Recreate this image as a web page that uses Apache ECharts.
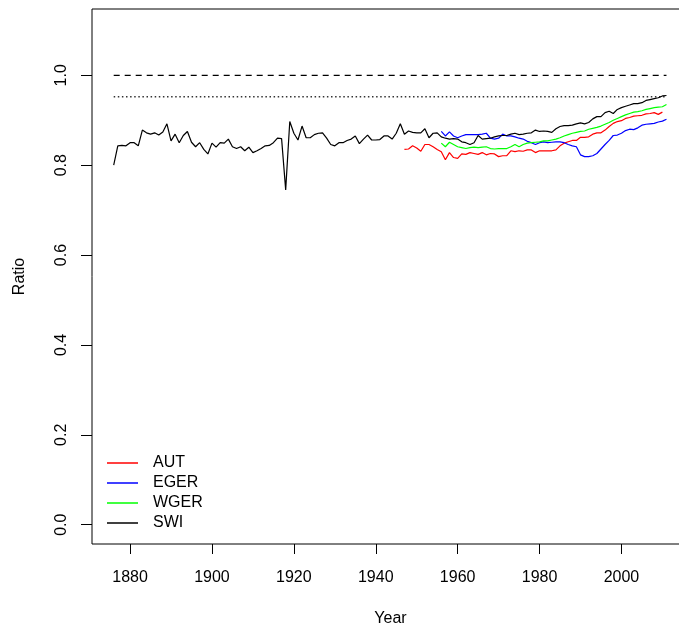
<!DOCTYPE html>
<html>
<head>
<meta charset="utf-8">
<script src="https://cdn.jsdelivr.net/npm/echarts@6/dist/echarts.min.js"></script>
<style>
    html, body { margin: 0; padding: 0; background: #fff; }
    #chart { width: 679px; height: 630px; }
</style>
</head>
<body>
<div id="chart"></div>
<script>
// series: first year + one value per year
const swiStart = 1876;
const swiValues = [
    0.800, 0.843, 0.844, 0.843, 0.850, 0.850, 0.843, 0.878, 0.872, 0.869,
    0.872, 0.867, 0.874, 0.892, 0.854, 0.869, 0.850, 0.866, 0.875, 0.851,
    0.841, 0.850, 0.835, 0.825, 0.849, 0.840, 0.850, 0.849, 0.858, 0.841,
    0.837, 0.841, 0.832, 0.840, 0.828, 0.832, 0.837, 0.843, 0.844, 0.850,
    0.860, 0.859, 0.745, 0.897, 0.871, 0.856, 0.887, 0.861, 0.861, 0.868,
    0.871, 0.872, 0.860, 0.846, 0.843, 0.850, 0.850, 0.855, 0.858, 0.865,
    0.848, 0.858, 0.867, 0.856, 0.856, 0.857, 0.865, 0.865, 0.858, 0.871,
    0.892, 0.869, 0.876, 0.873, 0.872, 0.872, 0.881, 0.861, 0.871, 0.872,
    0.863, 0.860, 0.858, 0.859, 0.858, 0.852, 0.850, 0.846, 0.850, 0.866,
    0.858, 0.859, 0.860, 0.863, 0.865, 0.866, 0.866, 0.869, 0.871, 0.868,
    0.869, 0.871, 0.872, 0.878, 0.875, 0.876, 0.875, 0.873, 0.881, 0.886,
    0.888, 0.888, 0.889, 0.892, 0.894, 0.892, 0.895, 0.903, 0.908, 0.908,
    0.917, 0.920, 0.915, 0.924, 0.928, 0.931, 0.934, 0.937, 0.937, 0.939,
    0.944, 0.946, 0.948, 0.950, 0.954, 0.955
];
const autStart = 1947;
const autValues = [
    0.835, 0.836, 0.843, 0.838, 0.831, 0.846, 0.846, 0.841, 0.835, 0.830,
    0.812, 0.828, 0.817, 0.815, 0.825, 0.824, 0.828, 0.826, 0.824, 0.828,
    0.823, 0.826, 0.825, 0.819, 0.821, 0.821, 0.832, 0.830, 0.832, 0.831,
    0.834, 0.834, 0.828, 0.832, 0.832, 0.832, 0.832, 0.834, 0.843, 0.849,
    0.852, 0.855, 0.855, 0.862, 0.862, 0.863, 0.869, 0.872, 0.872, 0.878,
    0.886, 0.893, 0.897, 0.899, 0.904, 0.906, 0.909, 0.910, 0.911, 0.914,
    0.915, 0.917, 0.913, 0.918
];
const egerStart = 1956;
const egerValues = [
    0.875, 0.865, 0.874, 0.865, 0.861, 0.865, 0.868, 0.868, 0.868, 0.868,
    0.869, 0.871, 0.860, 0.858, 0.860, 0.869, 0.865, 0.865, 0.863, 0.860,
    0.858, 0.853, 0.850, 0.846, 0.850, 0.852, 0.850, 0.851, 0.852, 0.852,
    0.850, 0.846, 0.843, 0.841, 0.823, 0.819, 0.819, 0.821, 0.826, 0.836,
    0.846, 0.855, 0.866, 0.867, 0.871, 0.877, 0.880, 0.879, 0.883, 0.889,
    0.891, 0.892, 0.893, 0.896, 0.898, 0.902
];
const wgerStart = 1956;
const wgerValues = [
    0.849, 0.841, 0.851, 0.846, 0.841, 0.839, 0.837, 0.839, 0.840, 0.839,
    0.840, 0.841, 0.837, 0.836, 0.837, 0.837, 0.837, 0.841, 0.846, 0.841,
    0.846, 0.849, 0.850, 0.851, 0.852, 0.854, 0.854, 0.856, 0.858, 0.861,
    0.865, 0.868, 0.871, 0.873, 0.875, 0.876, 0.880, 0.882, 0.884, 0.887,
    0.891, 0.895, 0.900, 0.904, 0.908, 0.912, 0.915, 0.918, 0.919, 0.921,
    0.924, 0.926, 0.928, 0.929, 0.930, 0.935
];
// reference lines
const refYears = [1876, 2011];
const refFull = 1.0;
const refDotted = 0.952;
// ticks
const xTicks = [1880, 1900, 1920, 1940, 1960, 1980, 2000];
const yTicks = [0, 0.2, 0.4, 0.6, 0.8, 1.0];

function toPairs(start, values) {
    return values.map((v, i) => [start + i, v]);
}

const chart = echarts.init(document.getElementById("chart"), null, { renderer: "canvas" });
const font = "Liberation Sans, Arial, sans-serif";

function lineSeries(name, start, values, color) {
    return {
        name: name,
        type: "line",
        data: toPairs(start, values),
        symbol: "none",
        lineStyle: { color: color, width: 1.2 },
        itemStyle: { color: color },
        z: 3,
    };
}

const option = {
    animation: false,
    backgroundColor: "#fff",
    textStyle: { fontFamily: font, color: "#000" },
    grid: {
        left: 92,
        top: 9,
        width: 597,
        height: 535,
        show: true,
        borderColor: "#000",
        borderWidth: 1,
        backgroundColor: "transparent",
        outerBoundsMode: "none",
    },
    legend: {
        orient: "vertical",
        left: 102,
        top: 450,
        icon: "rect",
        itemWidth: 31,
        itemHeight: 1.5,
        itemGap: 4,
        data: ["AUT", "EGER", "WGER", "SWI"],
        textStyle: {
            fontFamily: font,
            fontSize: 16,
            color: "#000",
            lineHeight: 16,
            padding: [0, 0, 0, 10],
        },
    },
    xAxis: {
        type: "value",
        min: 1870.7,
        max: 2016.5,
        name: "Year",
        nameLocation: "middle",
        nameGap: 67,
        nameTextStyle: { fontFamily: font, fontSize: 16, color: "#000" },
        axisLine: { show: false, onZero: false },
        splitLine: { show: false },
        axisTick: {
            show: true,
            inside: false,
            length: 10,
            customValues: xTicks,
            lineStyle: { color: "#000", width: 1 },
        },
        axisLabel: {
            customValues: xTicks,
            margin: 26,
            fontFamily: font,
            fontSize: 16,
            color: "#000",
            formatter(value) {
                return String(value);
            },
        },
    },
    yAxis: {
        type: "value",
        min: -0.043,
        max: 1.1475,
        name: "Ratio",
        nameLocation: "middle",
        nameGap: 64,
        nameRotate: 90,
        nameTextStyle: { fontFamily: font, fontSize: 16, color: "#000" },
        axisLine: { show: false, onZero: false },
        splitLine: { show: false },
        axisTick: {
            show: true,
            inside: false,
            length: 11,
            customValues: yTicks,
            lineStyle: { color: "#000", width: 1 },
        },
        axisLabel: {
            customValues: yTicks,
            rotate: 90,
            margin: 22,
            fontFamily: font,
            fontSize: 16,
            color: "#000",
            formatter(value) {
                return value.toFixed(1);
            },
        },
    },
    series: [
        lineSeries("AUT", autStart, autValues, "#ff0000"),
        lineSeries("EGER", egerStart, egerValues, "#0000ff"),
        lineSeries("WGER", wgerStart, wgerValues, "#00ff00"),
        lineSeries("SWI", swiStart, swiValues, "#000000"),
        {
            name: "full",
            type: "line",
            data: refYears.map((y) => [y, refFull]),
            symbol: "none",
            lineStyle: { color: "#000", width: 1.2, type: [6, 5] },
            z: 2,
        },
        {
            name: "dotted",
            type: "line",
            data: refYears.map((y) => [y, refDotted]),
            symbol: "none",
            lineStyle: { color: "#333", width: 1.5, type: [1.5, 2.6] },
            z: 2,
        },
    ],
};
chart.setOption(option);
</script>
</body>
</html>
